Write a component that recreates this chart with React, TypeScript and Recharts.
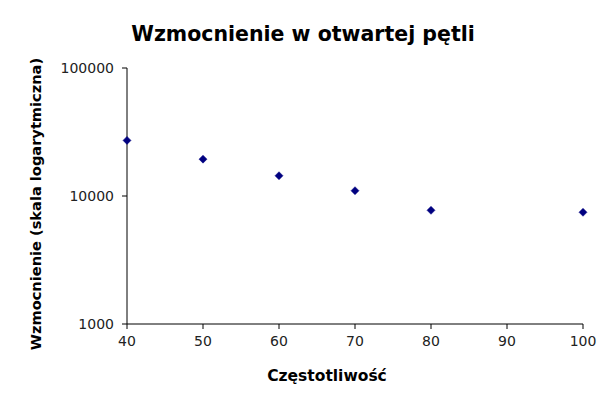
import React from 'react';
import { ScatterChart, Scatter, XAxis, YAxis, Label } from 'recharts';

const frequencies = [40, 50, 60, 70, 80, 100];
const gains = [27200, 19400, 14400, 11000, 7730, 7460];
const xTicks = [40, 50, 60, 70, 80, 90, 100];
const yTicks = [1000, 10000, 100000];

const data = frequencies.map((f, i) => ({ f, g: gains[i] }));

const FONT = 'DejaVu Sans, sans-serif';

const Diamond = (props: any) => {
  const { cx, cy } = props;
  if (cx == null || cy == null) return null;
  const r = 4;
  return (
    <polygon
      points={`${cx},${cy - r} ${cx + r},${cy} ${cx},${cy + r} ${cx - r},${cy}`}
      fill="#000080"
      stroke="#000080"
      strokeWidth={0.5}
    />
  );
};

export default function App() {
  return (
    <div style={{ position: 'absolute', left: 0, top: 0, width: 610, height: 405, background: '#fff' }}>
      <ScatterChart width={610} height={405} margin={{ top: 68, right: 27, bottom: 0, left: 0 }}>
        <text x={303} y={41} textAnchor="middle" fontFamily={FONT} fontWeight="bold" fontSize={20.5} fill="#000">
          Wzmocnienie w otwartej pętli
        </text>
        <XAxis
          type="number"
          dataKey="f"
          domain={[40, 100]}
          ticks={xTicks}
          height={81}
          axisLine={{ stroke: '#000' }}
          tickLine={{ stroke: '#000' }}
          tickSize={5}
          tickMargin={7}
          tick={{ fill: '#222', fontSize: 14, fontFamily: FONT }}
        >
          <Label
            content={() => (
              <text x={327} y={381} textAnchor="middle" fontFamily={FONT} fontWeight="bold" fontSize={15.5} fill="#000">
                Częstotliwość
              </text>
            )}
          />
        </XAxis>
        <YAxis
          type="number"
          dataKey="g"
          scale="log"
          domain={[1000, 100000]}
          ticks={yTicks}
          width={127}
          axisLine={{ stroke: '#000' }}
          tickLine={{ stroke: '#000' }}
          tickSize={5}
          tickMargin={8}
          tick={{ fill: '#222', fontSize: 14, fontFamily: FONT }}
        >
          <Label
            content={() => (
              <text x={41} y={204} transform="rotate(-90, 41, 204)" textAnchor="middle" fontFamily={FONT} fontWeight="bold" fontSize={14.6} fill="#000">
                Wzmocnienie (skala logarytmiczna)
              </text>
            )}
          />
        </YAxis>
        <Scatter data={data} shape={<Diamond />} isAnimationActive={false} />
      </ScatterChart>
    </div>
  );
}
